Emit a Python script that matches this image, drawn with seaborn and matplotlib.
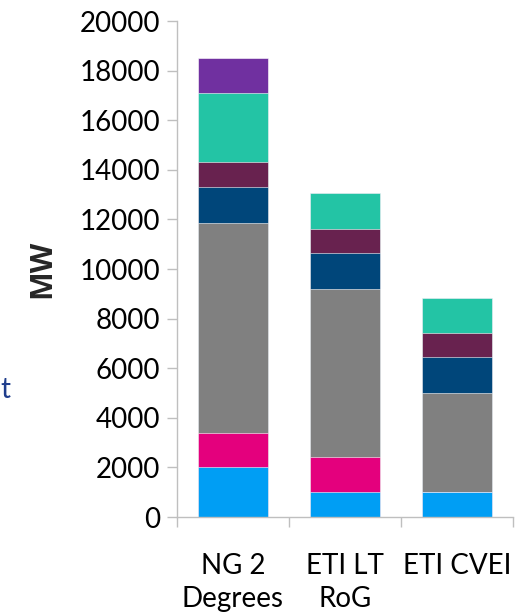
import matplotlib
matplotlib.use("Agg")
import matplotlib.pyplot as plt
import numpy as np
import pandas as pd
import seaborn as sns

# Scenarios and installed capacity (MW) per technology layer, bottom to top
scenarios = ["NG 2\nDegrees", "ETI LT\nRoG", "ETI CVEI"]
layer_names = ["Layer 1", "Layer 2", "Layer 3", "Layer 4", "Layer 5", "Layer 6", "Layer 7"]
layer1 = [2000, 1000, 1000]
layer2 = [1400, 1400, 0]
layer3 = [8450, 6800, 4000]
layer4 = [1450, 1450, 1450]
layer5 = [1000, 950, 950]
layer6 = [2800, 1450, 1450]
layer7 = [1400, 0, 0]
layer_colors = ["#009EF4", "#E4007D", "#808080", "#00467A", "#68224F", "#23C4A5", "#7030A0"]

yticks = [0, 2000, 4000, 6000, 8000, 10000, 12000, 14000, 16000, 18000, 20000]

sns.set_style("white")
plt.rcParams["font.family"] = ["Lato", "DejaVu Sans"]

layers = [layer1, layer2, layer3, layer4, layer5, layer6, layer7]
cum = np.cumsum(np.array(layers, dtype=float), axis=0)

fig = plt.figure(figsize=(5.21, 6.13), dpi=100)
ax = fig.add_axes([177 / 521, 1 - 517 / 613, (513 - 177) / 521, (517 - 21) / 613])

# Draw cumulative totals from the top layer down so each layer shows as a stacked segment
for i in range(len(layers) - 1, -1, -1):
    df = pd.DataFrame({"scenario": scenarios, "total": cum[i]})
    sns.barplot(data=df, x="scenario", y="total", color=layer_colors[i],
                width=0.625, saturation=1, edgecolor="white", linewidth=0.4, ax=ax)

ax.set_xlim(-0.5, 2.5)
ax.set_ylim(0, 20000)
ax.set_yticks(yticks)
ax.set_yticklabels([str(v) for v in yticks])
ax.set_xticks([0, 1, 2])
ax.set_xticklabels(scenarios, linespacing=1.35)
ax.set_xticks([-0.5, 0.5, 1.5, 2.5], minor=True)
ax.set_xlabel("")
ax.set_ylabel("MW", fontsize=22, fontweight="bold", family=["Open Sans", "DejaVu Sans"],
              labelpad=0)
ax.yaxis.set_label_coords(-0.355, 0.5)

spine_color = "#BFBFBF"
for side in ["top", "right"]:
    ax.spines[side].set_visible(False)
for side in ["left", "bottom"]:
    ax.spines[side].set_color(spine_color)
    ax.spines[side].set_linewidth(1.0)

ax.tick_params(axis="y", which="major", direction="out", length=7, width=1.0,
               color=spine_color, labelsize=20, pad=5, left=True, labelcolor="black")
ax.tick_params(axis="x", which="major", length=0, labelsize=20, pad=26, labelcolor="black")
ax.tick_params(axis="x", which="minor", direction="out", length=7, width=1.0,
               color=spine_color, bottom=True)

# Fragment of the legend text at the left edge
fig.text(0.0, 1 - 398 / 613, "t", color="#1F3D8C", fontsize=20, ha="left", va="baseline")

fig.savefig("out.png", dpi=100)
